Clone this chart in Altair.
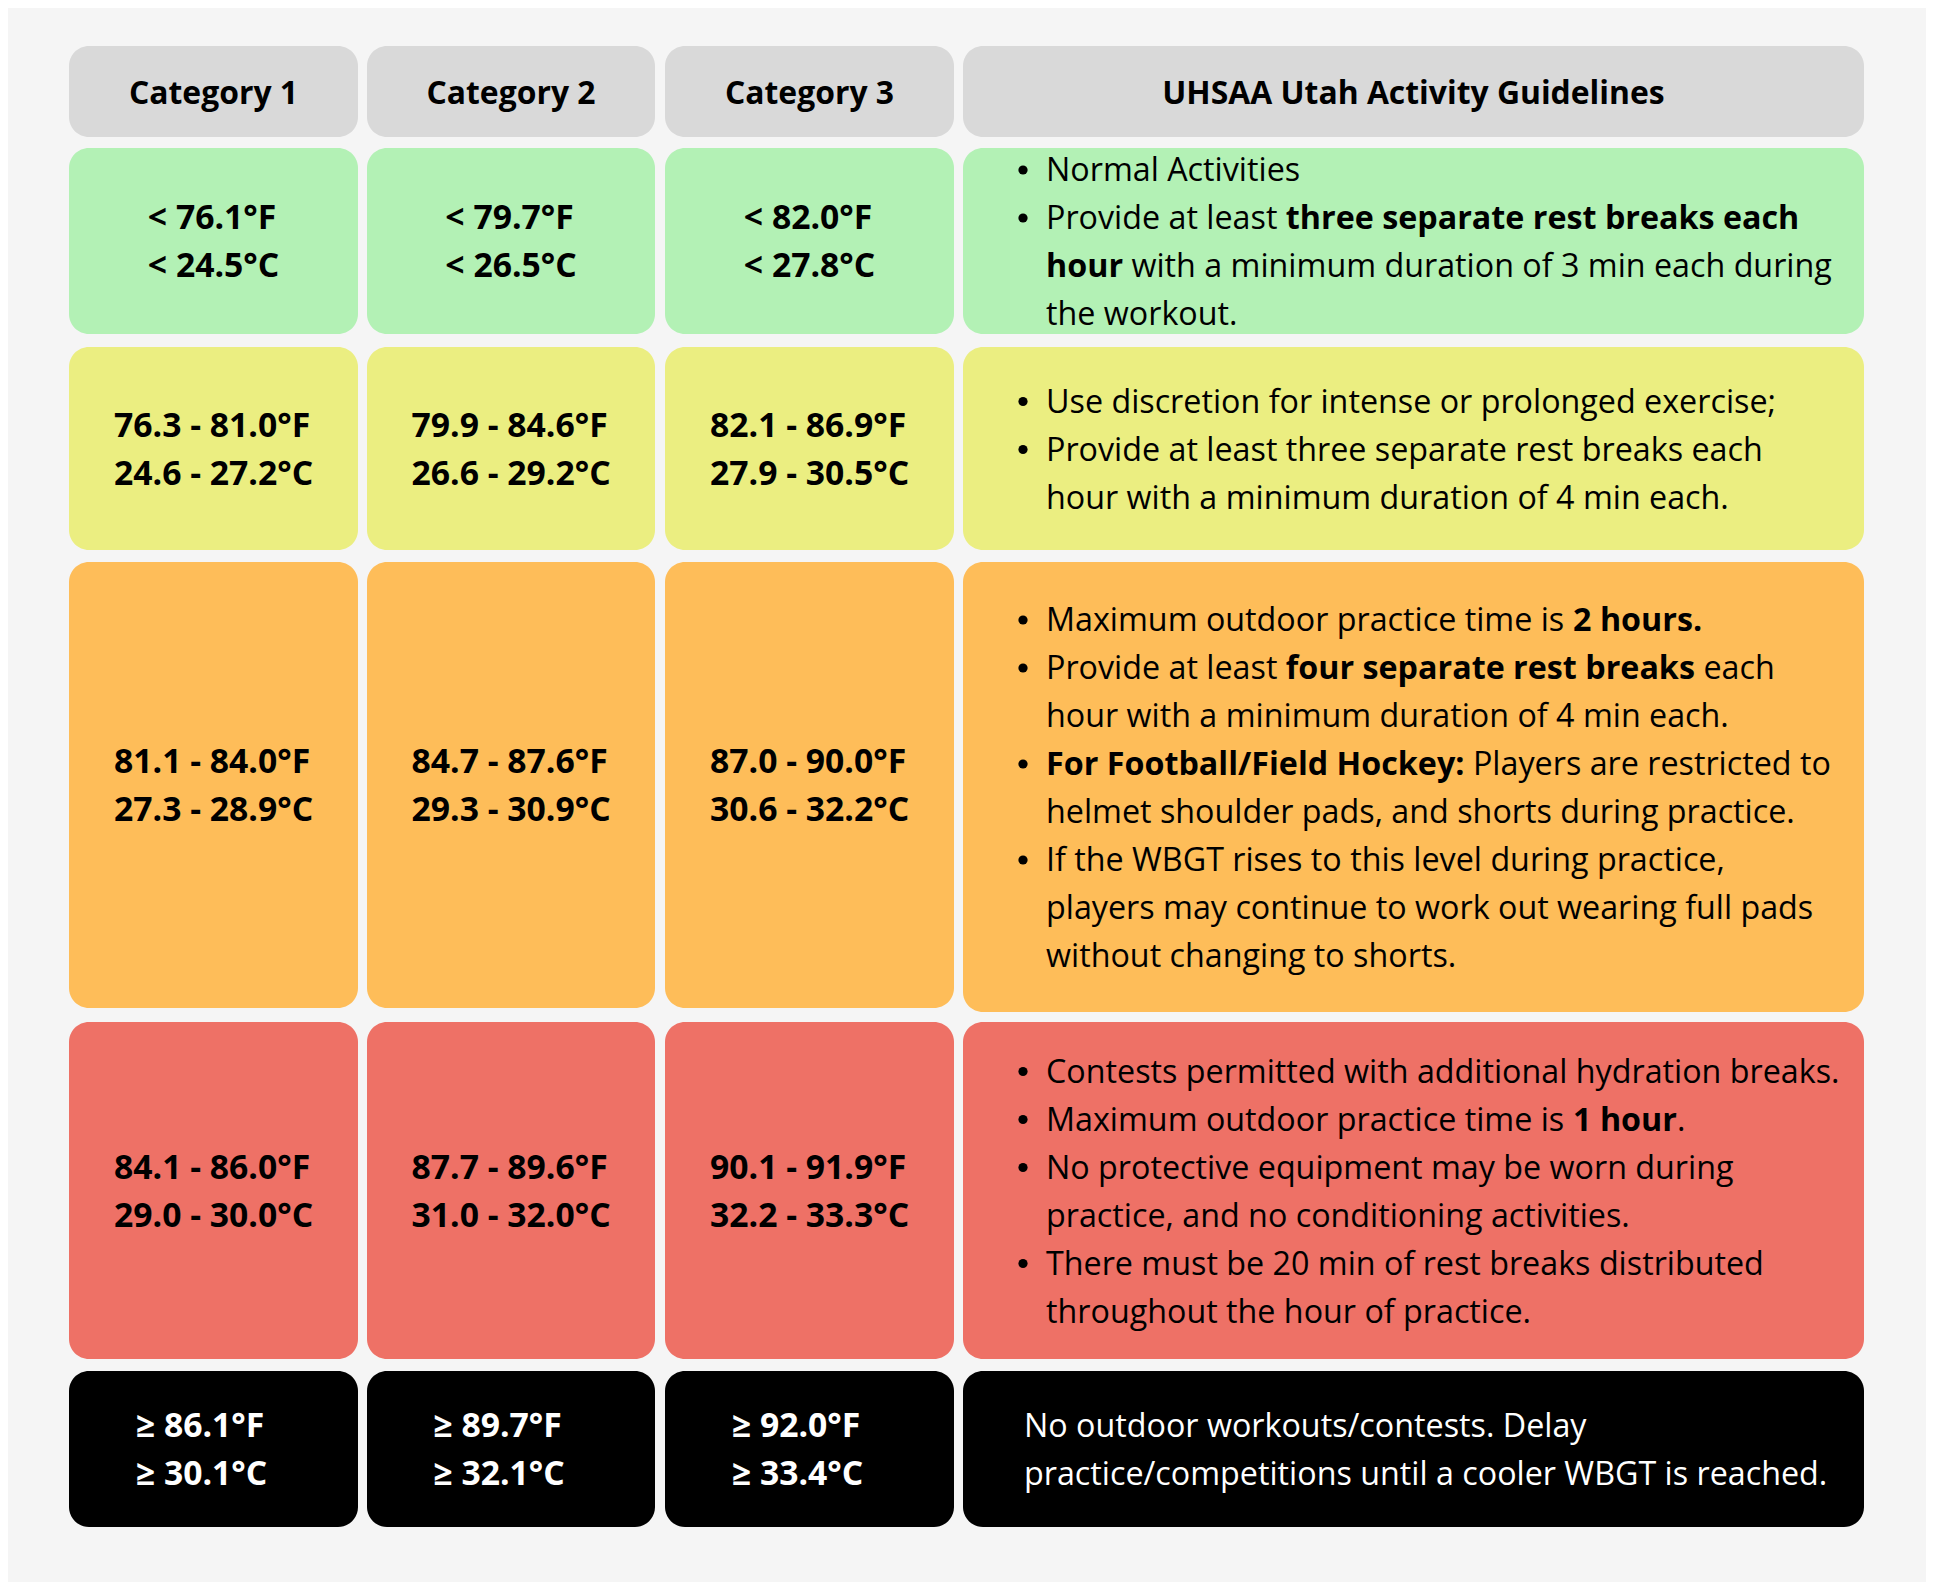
import glob
import os
import struct

import altair as alt
import pandas as pd

# ------------------------------------------------------------------ data
categories = ["Category 1", "Category 2", "Category 3", "UHSAA Utah Activity Guidelines"]
levels = ["green", "yellow", "orange", "red", "black"]

cat1_f = ["< 76.1°F", "76.3 - 81.0°F", "81.1 - 84.0°F", "84.1 - 86.0°F", "≥ 86.1°F"]
cat1_c = ["< 24.5°C", "24.6 - 27.2°C", "27.3 - 28.9°C", "29.0 - 30.0°C", "≥ 30.1°C"]
cat2_f = ["< 79.7°F", "79.9 - 84.6°F", "84.7 - 87.6°F", "87.7 - 89.6°F", "≥ 89.7°F"]
cat2_c = ["< 26.5°C", "26.6 - 29.2°C", "29.3 - 30.9°C", "31.0 - 32.0°C", "≥ 32.1°C"]
cat3_f = ["< 82.0°F", "82.1 - 86.9°F", "87.0 - 90.0°F", "90.1 - 91.9°F", "≥ 92.0°F"]
cat3_c = ["< 27.8°C", "27.9 - 30.5°C", "30.6 - 32.2°C", "32.2 - 33.3°C", "≥ 33.4°C"]

# guideline bullets: each bullet is a list of wrapped lines, **...** = bold
guide_green = [
    ["Normal Activities"],
    ["Provide at least **three separate rest breaks each**",
     "**hour** with a minimum duration of 3 min each during",
     "the workout."],
]
guide_yellow = [
    ["Use discretion for intense or prolonged exercise;"],
    ["Provide at least three separate rest breaks each",
     "hour with a minimum duration of 4 min each."],
]
guide_orange = [
    ["Maximum outdoor practice time is **2 hours.**"],
    ["Provide at least **four separate rest breaks** each",
     "hour with a minimum duration of 4 min each."],
    ["**For Football/Field Hockey:** Players are restricted to",
     "helmet shoulder pads, and shorts during practice."],
    ["If the WBGT rises to this level during practice,",
     "players may continue to work out wearing full pads",
     "without changing to shorts."],
]
guide_red = [
    ["Contests permitted with additional hydration breaks."],
    ["Maximum outdoor practice time is **1 hour**."],
    ["No protective equipment may be worn during",
     "practice, and no conditioning activities."],
    ["There must be 20 min of rest breaks distributed",
     "throughout the hour of practice."],
]
guide_black = [
    ["No outdoor workouts/contests. Delay",
     "practice/competitions until a cooler WBGT is reached."],
]
guidelines = [guide_green, guide_yellow, guide_orange, guide_red, guide_black]
bulleted = [True, True, True, True, False]

# ------------------------------------------------------------------ styles / layout
FONT = "Open Sans"
FONT_KEY = "opensans"
BG = "#f5f5f5"
HEADER_FILL = "#d9d9d9"
LEVEL_FILL = ["#b3f1b5", "#ebee81", "#febd59", "#ee7166", "#000000"]
LEVEL_TEXT = ["#000000", "#000000", "#000000", "#000000", "#ffffff"]
LEVEL_NUM_SHIFT = [0, 0, 0, 0, -12]

PAGE_W, PAGE_H, MARGIN = 1934, 1590, 8
COL_L = [69, 367, 665, 963]
COL_R = [358, 655, 954, 1864]
ROW_T = [46, 148, 347, 562, 1022, 1371]
ROW_B = [137, 334, 550, 1008, 1359, 1527]
GUIDE_B = [137, 334, 550, 1012, 1359, 1527]
LINE_H = 48
GUIDE_TEXT_X = 1046
GUIDE_BULLET_CX = 1023
GUIDE_BULLET_DY = 1
BULLET_AREA = 85
GUIDE_PLAIN_X = 1024
TEXT_DY = 2
RADIUS = 20


# ------------------------------------------------------------------ font metrics
def _u16(b, o):
    return struct.unpack_from(">H", b, o)[0]


def _u32(b, o):
    return struct.unpack_from(">I", b, o)[0]


class FontMetrics:
    def __init__(self, path):
        b = open(path, "rb").read()
        off0 = _u32(b, 12) if b[:4] == b"ttcf" else 0
        n = _u16(b, off0 + 4)
        t = {}
        for i in range(n):
            r = off0 + 12 + 16 * i
            t[b[r:r + 4].decode("latin1")] = _u32(b, r + 8)
        self.upem = _u16(b, t["head"] + 18)
        nhm = _u16(b, t["hhea"] + 34)
        hm = t["hmtx"]
        self.adv = [_u16(b, hm + 4 * i) for i in range(nhm)]
        self.b = b
        cm = t["cmap"]
        best = None
        for i in range(_u16(b, cm + 2)):
            pid = _u16(b, cm + 4 + 8 * i)
            so = cm + _u32(b, cm + 8 + 8 * i)
            fmt = _u16(b, so)
            if fmt == 12 and pid in (0, 3):
                best = (12, so)
                break
            if fmt == 4 and pid in (0, 3) and best is None:
                best = (4, so)
        self.cmap = best
        self.cache = {}

    def gid(self, ch):
        c = ord(ch)
        fmt, so = self.cmap
        b = self.b
        if fmt == 12:
            for g in range(_u32(b, so + 12)):
                s, e, sg = struct.unpack_from(">III", b, so + 16 + 12 * g)
                if s <= c <= e:
                    return sg + c - s
            return 0
        segx2 = _u16(b, so + 6)
        ends = so + 14
        starts = ends + segx2 + 2
        deltas = starts + segx2
        ros = deltas + segx2
        for i in range(segx2 // 2):
            e = _u16(b, ends + 2 * i)
            if c <= e:
                s = _u16(b, starts + 2 * i)
                if c < s:
                    return 0
                d = _u16(b, deltas + 2 * i)
                ro = _u16(b, ros + 2 * i)
                if ro == 0:
                    return (c + d) & 0xFFFF
                g = _u16(b, ros + 2 * i + ro + 2 * (c - s))
                return (g + d) & 0xFFFF if g else 0
        return 0

    def width(self, s, size):
        tot = 0
        for ch in s:
            if ch not in self.cache:
                g = self.gid(ch)
                self.cache[ch] = self.adv[min(g, len(self.adv) - 1)]
            tot += self.cache[ch]
        return tot * size / self.upem


class ApproxMetrics:
    def __init__(self, factor):
        self.factor = factor

    def width(self, s, size):
        return len(s) * 0.53 * size * self.factor


class ScaledMetrics:
    def __init__(self, base, factor):
        self.base, self.factor = base, factor

    def width(self, s, size):
        return self.base.width(s, size) * self.factor


def load_metrics(key):
    files = []
    for root in ["/usr/share/fonts", "/usr/local/share/fonts",
                 os.path.expanduser("~/.fonts"), os.path.expanduser("~/.local/share/fonts")]:
        files += glob.glob(os.path.join(root, "**", "*.[ot]t[fc]"), recursive=True)
    reg = bold = None
    for p in files:
        nm = os.path.splitext(os.path.basename(p))[0].lower()
        for c in "-_ ":
            nm = nm.replace(c, "")
        if nm in (key, key + "regular") and reg is None:
            reg = p
        elif nm == key + "bold" and bold is None:
            bold = p
        elif nm.startswith(key + "[") and "italic" not in nm and reg is None:
            reg = p
    try:
        r = FontMetrics(reg) if reg else ApproxMetrics(1.0)
    except Exception:
        r = ApproxMetrics(1.0)
    try:
        bd = FontMetrics(bold) if bold else ScaledMetrics(r, 1.07)
    except Exception:
        bd = ScaledMetrics(r, 1.07)
    return r, bd


M_REG, M_BOLD = load_metrics(FONT_KEY)


def fit(m, text, target, lo, hi):
    w = m.width(text, 1.0)
    return max(lo, min(hi, target / w)) if w > 0 else (lo + hi) / 2


BODY_SIZE = fit(M_REG, "Contests permitted with additional hydration breaks.", 794, 26, 34)
NUM_SIZE = fit(M_BOLD, "76.3 - 81.0°F", 196, 26, 34)
HEAD_SIZE = fit(M_BOLD, "Category 1", 169, 26, 34)

# ------------------------------------------------------------------ build tables
rect_rows = []
for j in range(4):
    rect_rows.append(dict(x=COL_L[j], x2=COL_R[j], y=ROW_T[0], y2=ROW_B[0], fill=HEADER_FILL))
for i in range(len(levels)):
    for j in range(4):
        bottom = GUIDE_B[i + 1] if j == 3 else ROW_B[i + 1]
        rect_rows.append(dict(x=COL_L[j], x2=COL_R[j], y=ROW_T[i + 1], y2=bottom,
                              fill=LEVEL_FILL[i]))
rects = pd.DataFrame(rect_rows)

text_rows = []    # x, y, text, weight, size, tcol
bullet_rows = []  # x, y, tcol

# headers (centered)
for j, cat in enumerate(categories):
    cx = (COL_L[j] + COL_R[j]) / 2
    cy = (ROW_T[0] + ROW_B[0]) / 2
    w = M_BOLD.width(cat, HEAD_SIZE)
    text_rows.append(dict(x=cx - w / 2, y=cy, text=cat, weight="bold", size=HEAD_SIZE,
                          tcol="#000000"))

# temperature ranges (left-aligned block, centred in its cell)
temps = [(cat1_f, cat1_c), (cat2_f, cat2_c), (cat3_f, cat3_c)]
for i in range(len(levels)):
    cy = (ROW_T[i + 1] + ROW_B[i + 1]) / 2
    for j, (fl, cl) in enumerate(temps):
        lines = [fl[i], cl[i]]
        maxw = max(M_BOLD.width(s, NUM_SIZE) for s in lines)
        x0 = (COL_L[j] + COL_R[j]) / 2 - maxw / 2 + LEVEL_NUM_SHIFT[i]
        for k, s in enumerate(lines):
            text_rows.append(dict(x=x0, y=cy + (k - 0.5) * LINE_H, text=s, weight="bold",
                                  size=NUM_SIZE, tcol=LEVEL_TEXT[i]))


def runs_of(line):
    parts = line.split("**")
    return [(p, "bold" if k % 2 else "normal") for k, p in enumerate(parts) if p]


# guidelines
for i in range(len(levels)):
    cy = (ROW_T[i + 1] + GUIDE_B[i + 1]) / 2
    all_lines = []
    for bullet in guidelines[i]:
        for k, ln in enumerate(bullet):
            all_lines.append((ln, k == 0))
    n = len(all_lines)
    for li, (ln, first) in enumerate(all_lines):
        y = cy + (li - (n - 1) / 2) * LINE_H
        if bulleted[i]:
            x = GUIDE_TEXT_X
            if first:
                bullet_rows.append(dict(x=GUIDE_BULLET_CX, y=y + GUIDE_BULLET_DY,
                                        tcol=LEVEL_TEXT[i]))
        else:
            x = GUIDE_PLAIN_X
        for raw, wt in runs_of(ln):
            m = M_BOLD if wt == "bold" else M_REG
            lead = len(raw) - len(raw.lstrip(" "))
            txt = raw.strip(" ")
            if txt:
                text_rows.append(dict(x=x + m.width(" " * lead, BODY_SIZE), y=y, text=txt,
                                      weight=wt, size=BODY_SIZE, tcol=LEVEL_TEXT[i]))
            x += m.width(raw, BODY_SIZE)

texts = pd.DataFrame(text_rows)
bullets = pd.DataFrame(bullet_rows)

# ------------------------------------------------------------------ chart
W = PAGE_W - 2 * MARGIN
H = PAGE_H - 2 * MARGIN
xs = alt.Scale(domain=[MARGIN, PAGE_W - MARGIN], range=[0, W], nice=False, zero=False)
ys = alt.Scale(domain=[MARGIN, PAGE_H - MARGIN], range=[0, H], nice=False, zero=False)

boxes = alt.Chart(rects).mark_rect(cornerRadius=RADIUS).encode(
    x=alt.X("x:Q", scale=xs, axis=None),
    x2="x2:Q",
    y=alt.Y("y:Q", scale=ys, axis=None),
    y2="y2:Q",
    color=alt.Color("fill:N", scale=None),
)

dots = alt.Chart(bullets).mark_circle(size=BULLET_AREA, opacity=1).encode(
    x=alt.X("x:Q", scale=xs, axis=None),
    y=alt.Y("y:Q", scale=ys, axis=None),
    color=alt.Color("tcol:N", scale=None),
)


def text_layer(weight):
    return alt.Chart(texts).transform_filter(
        alt.datum.weight == weight
    ).mark_text(align="left", baseline="middle", dy=TEXT_DY, font=FONT,
                fontWeight=weight).encode(
        x=alt.X("x:Q", scale=xs, axis=None),
        y=alt.Y("y:Q", scale=ys, axis=None),
        text="text:N",
        size=alt.Size("size:Q", scale=None),
        color=alt.Color("tcol:N", scale=None),
    )


chart = alt.layer(boxes, dots, text_layer("normal"), text_layer("bold")).properties(
    width=W, height=H, autosize="none", padding=0
).configure(background=BG).configure_view(strokeWidth=0)

chart.save("out.html", embed_options={"renderer": "svg", "actions": False})
